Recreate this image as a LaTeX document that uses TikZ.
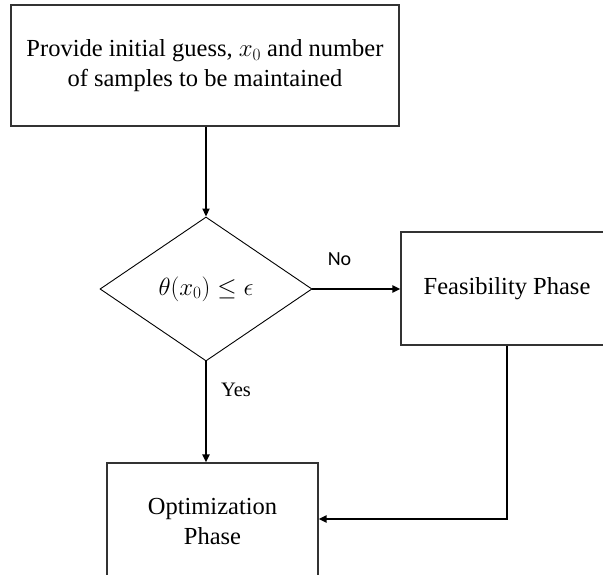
\documentclass[tikz,border=0pt]{standalone}
\usepackage{fontspec}
\setmainfont{Liberation Serif}
\newfontfamily\calib{Carlito}
\usetikzlibrary{shapes.geometric,arrows.meta,positioning}
\begin{document}
\begin{tikzpicture}[x=1pt,y=-1pt,
  box/.style={draw=black!80,line width=1.1pt,rectangle,inner sep=0pt,align=center,
    font=\fontsize{24.5}{30}\selectfont},
  decision/.style={draw=black,line width=0.9pt,diamond,inner sep=0pt,
    minimum width=212pt,minimum height=144pt,font=\fontsize{24.5}{30}\selectfont},
  conn/.style={draw=black,line width=1.9pt,-{Triangle[length=8pt,width=7pt]}},
  lbl/.style={inner sep=0pt}]
\useasboundingbox (0,0) rectangle (603,575);
\clip (0,0) rectangle (603,575);
\fill[white] (0,0) rectangle (603,575);
\node[box,minimum width=388pt,minimum height=121pt] (top) at (205,65.5)
  {Provide initial guess, $x_0$ and number\\of samples to be maintained};
\node[decision] (dia) at (206,289) {$\theta(x_0)\leq\epsilon$};
\node[box,minimum width=212pt,minimum height=113pt] (feas) at (507,288.5) {Feasibility Phase};
\node[box,minimum width=211pt,minimum height=118pt] (opt) at (212.5,522) {Optimization\\Phase};
\coordinate (turn) at (507,519);
\draw[conn] (top.south -| dia.north) -- (dia.north);
\draw[conn] (dia.east) -- (dia.east -| feas.west);
\draw[conn] (dia.south) -- (dia.south |- opt.north);
\draw[conn] (feas.south -| turn) -- (turn) -- (opt.east |- turn);
\node[lbl,font=\calib\fontsize{20}{24}\selectfont] (no) at (339.5,259) {No};
\node[lbl,font=\fontsize{20.5}{24}\selectfont] (yes) at (236,390) {Yes};
\end{tikzpicture}
\end{document}
